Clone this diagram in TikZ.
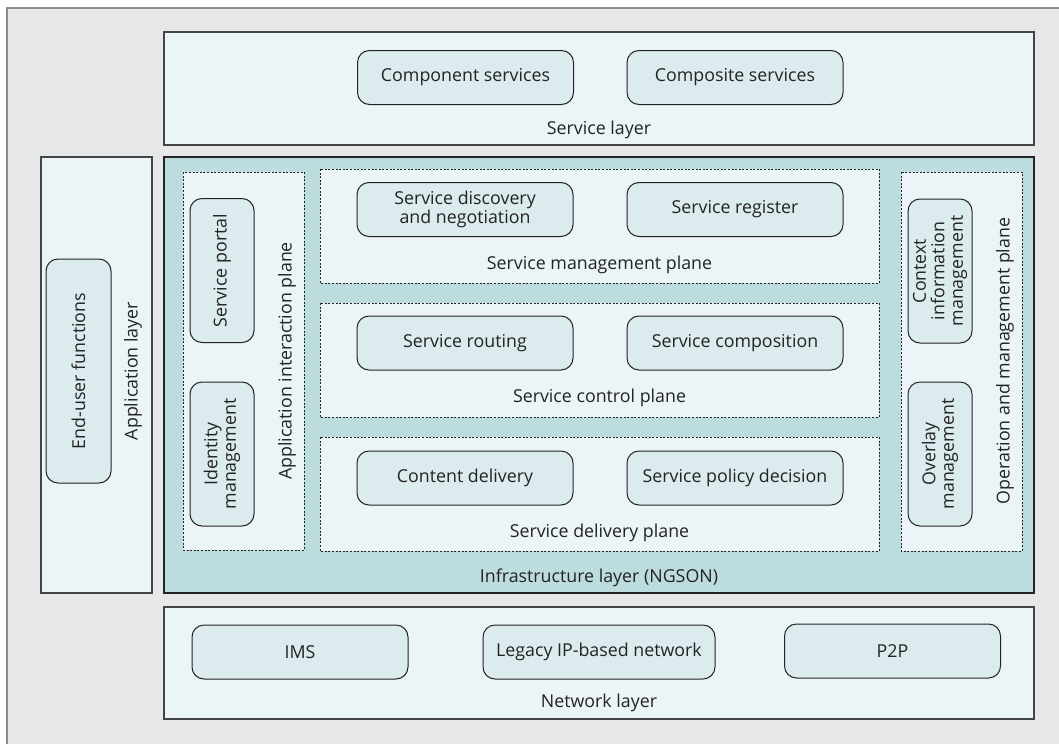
\documentclass[tikz,border=0pt]{standalone}
\usepackage{fontspec}
\setmainfont{Open Sans}
\definecolor{bggray}{HTML}{E6E7E8}
\definecolor{bgborder}{HTML}{8C8C8C}
\definecolor{layerfill}{HTML}{EBF4F6}
\definecolor{nodefill}{HTML}{DBEBEE}
\definecolor{infrafill}{HTML}{BDDCDE}
\definecolor{ink}{HTML}{232323}
\tikzset{
  layerbox/.style={draw=ink!85, line width=1.2pt, fill=layerfill},
  infrabox/.style={draw=ink, line width=2.4pt, fill=infrafill},
  planebox/.style={draw=ink, dash pattern=on 2pt off 1.6pt, line width=0.9pt, fill=layerfill},
  fn/.style={draw=ink, line width=1pt, fill=nodefill, rounded corners=12pt,
    align=center, inner sep=0pt, text=ink,
    font=\fontsize{17.8}{18.5}\selectfont},
  lbl/.style={text=ink, inner sep=0pt, font=\fontsize{17.8}{18.5}\selectfont},
  hfn/.style={fn, minimum width=216pt, minimum height=54pt},
  vfn/.style={fn, rotate=90, minimum width=144pt, minimum height=64pt}
}
\begin{document}
\begin{tikzpicture}[x=1pt,y=-1pt]
\useasboundingbox (0,0) rectangle (1059,744);
% background
\fill[bggray] (7,8) rectangle (1059,744);
\draw[bgborder, line width=2pt] (7,744) -- (7,8) -- (1059,8);

% service layer
\draw[layerbox] (164,32) rectangle (1034,145);
\node[hfn] (comp) at (465.5,77.5) {Component services};
\node[hfn] (compo) at (735,77.5) {Composite services};
\node[lbl] (sl) at (599,130) {Service layer};

% application layer
\draw[layerbox] (41,157) rectangle (152,593);
\node[fn, rotate=90, minimum width=224pt, minimum height=65pt] (euf) at (78.5,371) {End-user functions};
\node[lbl, rotate=90] (al) at (133,371) {Application layer};

% infrastructure layer
\draw[infrabox] (164,157) rectangle (1034,593);
\node[lbl] (il) at (599,578) {Infrastructure layer (NGSON)};

% application interaction plane
\draw[planebox] (183,172) rectangle (304,550);
\node[vfn] (sp) at (222,270.5) {Service portal};
\node[vfn] (idm) at (222,454) {Identity\\management};
\node[lbl, rotate=90] (aip) at (287,361) {Application interaction plane};

% service management plane
\draw[planebox] (320,169) rectangle (879,283);
\node[hfn] (sdn) at (465,209.5) {Service discovery\\and negotiation};
\node[hfn] (sr) at (735,209.5) {Service register};
\node[lbl] (smp) at (599.5,265) {Service management plane};

% service control plane
\draw[planebox] (320,303) rectangle (879,417);
\node[hfn] (srt) at (465,343) {Service routing};
\node[hfn] (scm) at (735,343) {Service composition};
\node[lbl] (scp) at (599.5,398) {Service control plane};

% service delivery plane
\draw[planebox] (320,437) rectangle (879,551);
\node[hfn] (cd) at (465,478) {Content delivery};
\node[hfn] (spd) at (735,478) {Service policy decision};
\node[lbl] (sdp) at (599.5,533) {Service delivery plane};

% operation and management plane
\draw[planebox] (901,172) rectangle (1022,551);
\node[vfn] (cim) at (940,271) {Context\\information\\management};
\node[vfn] (ovm) at (940,454) {Overlay\\management};
\node[lbl, rotate=90] (omp) at (1005,361) {Operation and management plane};

% network layer
\draw[layerbox] (164,607) rectangle (1034,719);
\node[hfn] (ims) at (300,652) {IMS};
\node[hfn, minimum width=232pt] (leg) at (599,652) {Legacy IP-based network};
\node[hfn] (p2p) at (892.5,651) {P2P};
\node[lbl] (nl) at (599,703) {Network layer};
\end{tikzpicture}
\end{document}
